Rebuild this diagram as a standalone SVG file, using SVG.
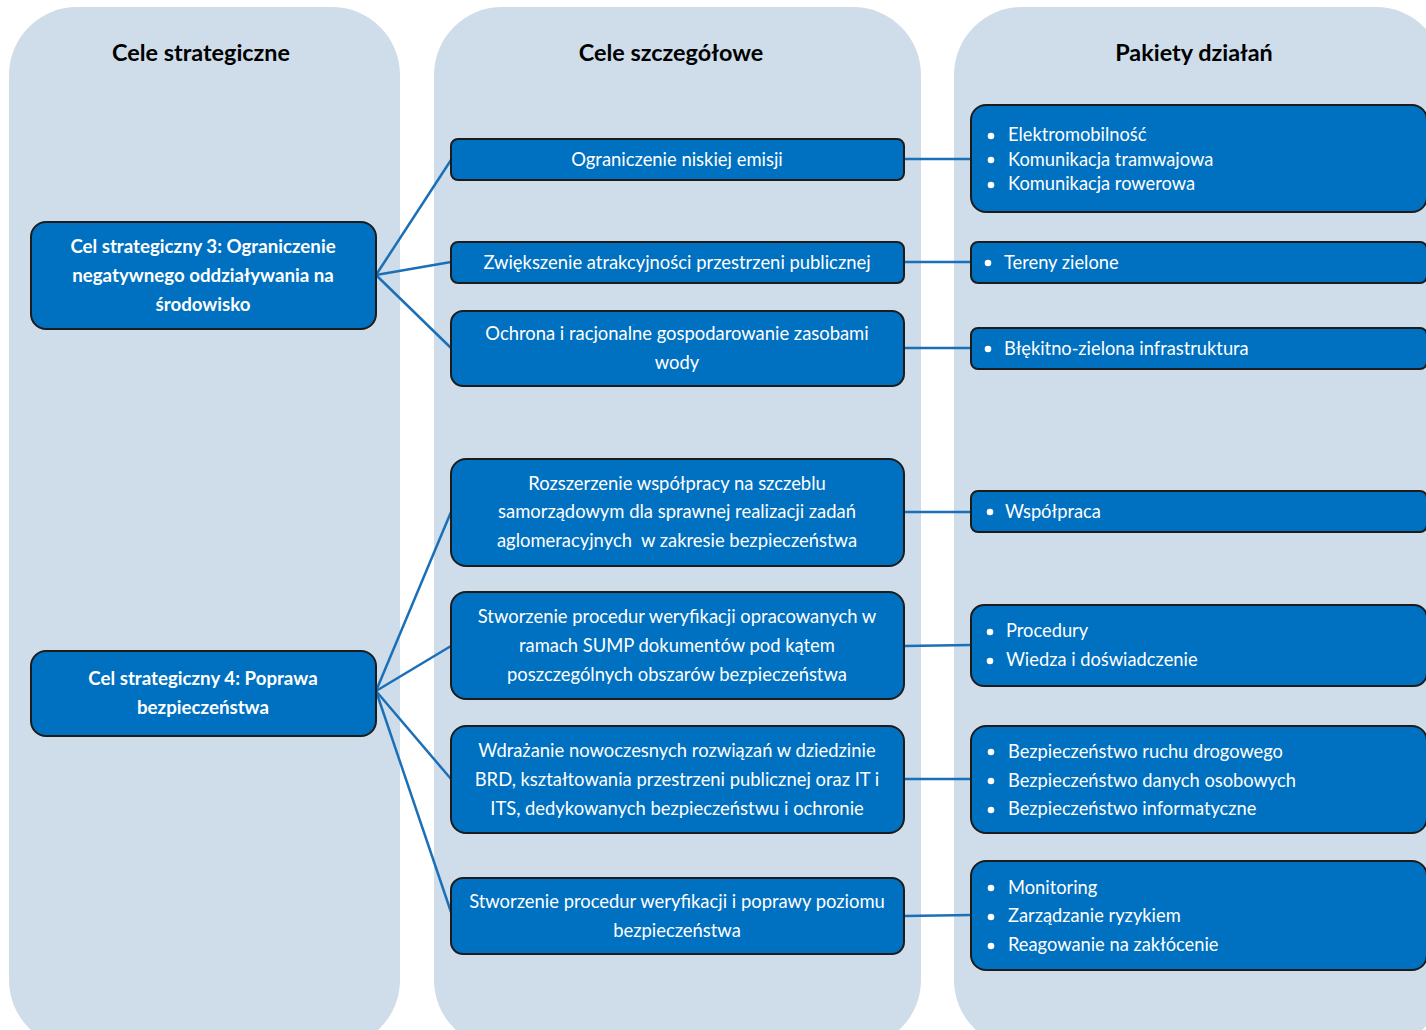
<svg xmlns="http://www.w3.org/2000/svg" width="1426" height="1030" viewBox="0 0 1426 1030">
<style>
.col{fill:#cedde9}
.node{fill:#0070c0;stroke:#1c1c1c;stroke-width:2}
.hdr{font-family:Lato,"Open Sans","Liberation Sans",sans-serif;font-weight:bold;font-size:23.4px;fill:#000;text-anchor:middle}
.st{font-family:Lato,"Open Sans","Liberation Sans",sans-serif;font-weight:bold;font-size:18.7px;fill:#fff;text-anchor:middle}
.sz{font-family:Lato,"Open Sans","Liberation Sans",sans-serif;font-size:18.4px;fill:#fff;text-anchor:middle}
.pk{font-family:Lato,"Open Sans","Liberation Sans",sans-serif;font-size:18.3px;fill:#fff}
.bul{fill:#fff}
.con{stroke:#1a70b8;stroke-width:2.5;fill:none}
</style>
<rect width="1426" height="1030" fill="#fff"/>
<g id="columns">
<rect class="col" x="9" y="7" width="391" height="1041" rx="68"/>
<rect class="col" x="434" y="7" width="487" height="1041" rx="68"/>
<rect class="col" x="954" y="7" width="490" height="1041" rx="68"/>
<text class="hdr" x="201" y="61">Cele strategiczne</text>
<text class="hdr" x="671" y="61">Cele szczegółowe</text>
<text class="hdr" x="1194" y="61">Pakiety działań</text>
</g>
<g id="connectors">
<line class="con" x1="376" y1="275" x2="451" y2="160"/>
<line class="con" x1="376" y1="275" x2="451" y2="262"/>
<line class="con" x1="376" y1="275" x2="451" y2="348"/>
<line class="con" x1="376" y1="691" x2="451" y2="512"/>
<line class="con" x1="376" y1="691" x2="451" y2="646"/>
<line class="con" x1="376" y1="691" x2="451" y2="779"/>
<line class="con" x1="376" y1="691" x2="451" y2="912"/>
<line class="con" x1="904" y1="159" x2="971" y2="159"/>
<line class="con" x1="904" y1="262" x2="971" y2="262"/>
<line class="con" x1="904" y1="348" x2="971" y2="348"/>
<line class="con" x1="904" y1="512" x2="971" y2="512"/>
<line class="con" x1="904" y1="646" x2="971" y2="645"/>
<line class="con" x1="904" y1="779" x2="971" y2="779"/>
<line class="con" x1="904" y1="916" x2="971" y2="915"/>
</g>
<g id="cs3">
<rect class="node" x="31" y="222" width="345" height="107" rx="15"/>
<text class="st" x="203" y="253">Cel strategiczny 3: Ograniczenie</text>
<text class="st" x="203" y="282">negatywnego oddziaływania na</text>
<text class="st" x="203" y="311">środowisko</text>
</g>
<g id="cs4">
<rect class="node" x="31" y="651" width="345" height="85" rx="15"/>
<text class="st" x="203" y="685">Cel strategiczny 4: Poprawa</text>
<text class="st" x="203" y="714">bezpieczeństwa</text>
</g>
<g id="sz1">
<rect class="node" x="451" y="139" width="453" height="41" rx="7"/>
<text class="sz" x="677" y="166">Ograniczenie niskiej emisji</text>
</g>
<g id="sz2">
<rect class="node" x="451" y="242" width="453" height="41" rx="7"/>
<text class="sz" x="677" y="269">Zwiększenie atrakcyjności przestrzeni publicznej</text>
</g>
<g id="sz3">
<rect class="node" x="451" y="311" width="453" height="75" rx="12"/>
<text class="sz" x="677" y="340">Ochrona i racjonalne gospodarowanie zasobami</text>
<text class="sz" x="677" y="369">wody</text>
</g>
<g id="sz4">
<rect class="node" x="451" y="459" width="453" height="107" rx="15"/>
<text class="sz" x="677" y="490">Rozszerzenie współpracy na szczeblu</text>
<text class="sz" x="677" y="518">samorządowym dla sprawnej realizacji zadań</text>
<text class="sz" x="677" y="547" xml:space="preserve">aglomeracyjnych  w zakresie bezpieczeństwa</text>
</g>
<g id="sz5">
<rect class="node" x="451" y="592" width="453" height="107" rx="15"/>
<text class="sz" x="677" y="623">Stworzenie procedur weryfikacji opracowanych w</text>
<text class="sz" x="677" y="652">ramach SUMP dokumentów pod kątem</text>
<text class="sz" x="677" y="681">poszczególnych obszarów bezpieczeństwa</text>
</g>
<g id="sz6">
<rect class="node" x="451" y="726" width="453" height="107" rx="15"/>
<text class="sz" x="677" y="757">Wdrażanie nowoczesnych rozwiązań w dziedzinie</text>
<text class="sz" x="677" y="786">BRD, kształtowania przestrzeni publicznej oraz IT i</text>
<text class="sz" x="677" y="815">ITS, dedykowanych bezpieczeństwu i ochronie</text>
</g>
<g id="sz7">
<rect class="node" x="451" y="878" width="453" height="76" rx="12"/>
<text class="sz" x="677" y="908">Stworzenie procedur weryfikacji i poprawy poziomu</text>
<text class="sz" x="677" y="937">bezpieczeństwa</text>
</g>
<g id="pk1">
<rect class="node" x="971" y="105" width="456" height="107" rx="15"/>
<circle class="bul" cx="991" cy="136" r="3.3"/><text class="pk" x="1008" y="141">Elektromobilność</text>
<circle class="bul" cx="991" cy="160" r="3.3"/><text class="pk" x="1008" y="166">Komunikacja tramwajowa</text>
<circle class="bul" cx="991" cy="185" r="3.3"/><text class="pk" x="1008" y="190">Komunikacja rowerowa</text>
</g>
<g id="pk2">
<rect class="node" x="971" y="242" width="456" height="41" rx="7"/>
<circle class="bul" cx="988" cy="263" r="3.3"/><text class="pk" x="1004" y="269">Tereny zielone</text>
</g>
<g id="pk3">
<rect class="node" x="971" y="328" width="456" height="41" rx="7"/>
<circle class="bul" cx="988" cy="349" r="3.3"/><text class="pk" x="1004" y="355">Błękitno-zielona infrastruktura</text>
</g>
<g id="pk4">
<rect class="node" x="971" y="491" width="456" height="41" rx="7"/>
<circle class="bul" cx="990" cy="512" r="3.3"/><text class="pk" x="1005" y="518">Współpraca</text>
</g>
<g id="pk5">
<rect class="node" x="971" y="605" width="456" height="81" rx="13"/>
<circle class="bul" cx="990" cy="632" r="3.3"/><text class="pk" x="1006" y="637">Procedury</text>
<circle class="bul" cx="990" cy="661" r="3.3"/><text class="pk" x="1006" y="666">Wiedza i doświadczenie</text>
</g>
<g id="pk6">
<rect class="node" x="971" y="726" width="456" height="107" rx="15"/>
<circle class="bul" cx="991" cy="752" r="3.3"/><text class="pk" x="1008" y="758">Bezpieczeństwo ruchu drogowego</text>
<circle class="bul" cx="991" cy="781" r="3.3"/><text class="pk" x="1008" y="787">Bezpieczeństwo danych osobowych</text>
<circle class="bul" cx="991" cy="810" r="3.3"/><text class="pk" x="1008" y="815">Bezpieczeństwo informatyczne</text>
</g>
<g id="pk7">
<rect class="node" x="971" y="861" width="456" height="109" rx="15"/>
<circle class="bul" cx="991" cy="888" r="3.3"/><text class="pk" x="1008" y="894">Monitoring</text>
<circle class="bul" cx="991" cy="917" r="3.3"/><text class="pk" x="1008" y="922">Zarządzanie ryzykiem</text>
<circle class="bul" cx="991" cy="946" r="3.3"/><text class="pk" x="1008" y="951">Reagowanie na zakłócenie</text>
</g>
</svg>
